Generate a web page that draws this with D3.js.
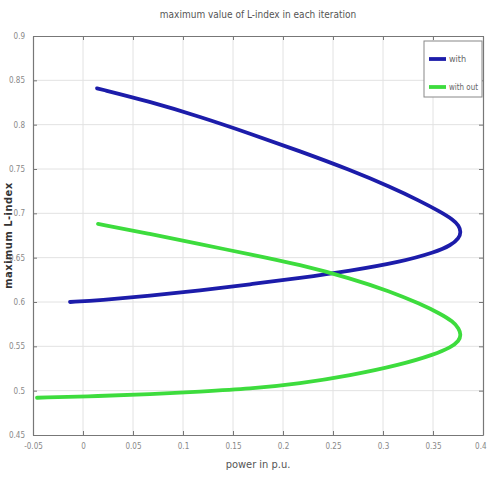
<!DOCTYPE html>
<html>
<head>
<meta charset="utf-8">
<script src="https://cdn.jsdelivr.net/npm/d3@7"></script>
<style>
  body { margin: 0; background: #fff; }
  svg { display: block; }
  text { font-family: "Liberation Sans Narrow", "DejaVu Sans Condensed", "Liberation Sans", sans-serif; }
</style>
</head>
<body>
<svg id="chart" width="487" height="482"></svg>
<script>
// Load-power values (p.u.) and the maximum L-index for each iteration
const withPower = [0.014, 0.067, 0.117, 0.167, 0.217, 0.267, 0.307, 0.337, 0.357, 0.370, 0.376, 0.378, 0.376, 0.368, 0.352, 0.317, 0.267, 0.217, 0.167, 0.117, 0.067, 0.017, -0.013];
const withLindex = [0.841, 0.826, 0.809, 0.790, 0.770, 0.749, 0.730, 0.714, 0.702, 0.693, 0.686, 0.679, 0.672, 0.664, 0.656, 0.645, 0.635, 0.627, 0.620, 0.613, 0.607, 0.602, 0.600];

const withoutPower = [0.015, 0.067, 0.117, 0.167, 0.217, 0.267, 0.307, 0.337, 0.357, 0.370, 0.376, 0.378, 0.376, 0.368, 0.352, 0.317, 0.267, 0.217, 0.167, 0.117, 0.067, 0.017, -0.046];
const withoutLindex = [0.688, 0.677, 0.665, 0.654, 0.642, 0.627, 0.612, 0.598, 0.587, 0.578, 0.570, 0.563, 0.556, 0.549, 0.541, 0.529, 0.517, 0.508, 0.502, 0.499, 0.496, 0.494, 0.492];

const xTicks = [-0.05, 0, 0.05, 0.1, 0.15, 0.2, 0.25, 0.3, 0.35, 0.4];
const xTickLabels = ["-0.05", "0", "0.05", "0.1", "0.15", "0.2", "0.25", "0.3", "0.35", "0.4"];
const yTicks = [0.45, 0.5, 0.55, 0.6, 0.65, 0.7, 0.75, 0.8, 0.85, 0.9];
const yTickLabels = ["0.45", "0.5", "0.55", "0.6", "0.65", "0.7", "0.75", "0.8", "0.85", "0.9"];

const seriesNames = ["with", "with out"];
const seriesColors = ["#1c1caa", "#3ddc3d"];

const svg = d3.select("#chart");
const margin = { top: 36, right: 4, bottom: 47, left: 33 };
const width = 487 - margin.left - margin.right;
const height = 482 - margin.top - margin.bottom;

const x = d3.scaleLinear().domain([-0.05, 0.4]).range([0, width]);
const y = d3.scaleLinear().domain([0.45, 0.9]).range([height, 0]);

const g = svg.append("g").attr("transform", `translate(${margin.left},${margin.top})`);

// grid
g.append("g").selectAll("line").data(xTicks.slice(1, -1)).join("line")
  .attr("x1", d => x(d)).attr("x2", d => x(d)).attr("y1", 0).attr("y2", height)
  .attr("stroke", "#e2e2e2").attr("stroke-width", 1);
g.append("g").selectAll("line").data(yTicks.slice(1, -1)).join("line")
  .attr("y1", d => y(d)).attr("y2", d => y(d)).attr("x1", 0).attr("x2", width)
  .attr("stroke", "#e2e2e2").attr("stroke-width", 1);

// axes with inward ticks on all four sides
const fmtX = (d, i) => xTickLabels[i];
const fmtY = (d, i) => yTickLabels[i];
const axB = g.append("g").attr("transform", `translate(0,${height})`)
  .call(d3.axisBottom(x).tickValues(xTicks).tickFormat(fmtX).tickSizeInner(-4).tickSizeOuter(0).tickPadding(8));
const axL = g.append("g")
  .call(d3.axisLeft(y).tickValues(yTicks).tickFormat(fmtY).tickSizeInner(-4).tickSizeOuter(0).tickPadding(8));
const axT = g.append("g")
  .call(d3.axisTop(x).tickValues(xTicks).tickFormat("").tickSizeInner(-4).tickSizeOuter(0));
const axR = g.append("g").attr("transform", `translate(${width},0)`)
  .call(d3.axisRight(y).tickValues(yTicks).tickFormat("").tickSizeInner(-4).tickSizeOuter(0));
[axB, axL, axT, axR].forEach(a => {
  a.select(".domain").attr("stroke", "#777").attr("stroke-width", 1.2);
  a.selectAll(".tick line").attr("stroke", "#777");
  a.selectAll("text").attr("fill", "#888").style("font-size", "8px");
});
// keep the last bottom label inside the frame
axB.selectAll(".tick text").filter((d, i) => i === xTicks.length - 1).attr("text-anchor", "end").attr("dx", "3");

// curves
const line = d3.line().x(d => x(d[0])).y(d => y(d[1])).curve(d3.curveBasis);
const series = [
  withPower.map((p, i) => [p, withLindex[i]]),
  withoutPower.map((p, i) => [p, withoutLindex[i]])
];
series.forEach((pts, i) => {
  g.append("path").datum(pts).attr("d", line)
    .attr("fill", "none").attr("stroke", seriesColors[i])
    .attr("stroke-width", 3.8).attr("stroke-linejoin", "round").attr("stroke-linecap", "round");
});

// legend
const lg = g.append("g").attr("transform", `translate(${width - 59},5)`);
lg.append("rect").attr("width", 58).attr("height", 56).attr("fill", "#fff").attr("stroke", "#888").attr("stroke-width", 1);
seriesNames.forEach((n, i) => {
  const yy = 18 + i * 28;
  lg.append("line").attr("x1", 5).attr("x2", 22).attr("y1", yy).attr("y2", yy)
    .attr("stroke", seriesColors[i]).attr("stroke-width", 3.8);
  lg.append("text").attr("x", 25).attr("y", yy + 3).text(n)
    .attr("fill", "#666").style("font-size", "9px")
    .attr("textLength", n.length > 4 ? 29 : null).attr("lengthAdjust", "spacingAndGlyphs");
});

// titles
svg.append("text").attr("x", margin.left + width / 2).attr("y", 18).attr("text-anchor", "middle")
  .attr("fill", "#555").style("font-size", "10px").text("maximum value of L-index in each iteration");
svg.append("text").attr("x", margin.left + width / 2).attr("y", 468).attr("text-anchor", "middle")
  .attr("fill", "#555").style("font-size", "11px").text("power in p.u.");
svg.append("text").attr("transform", `translate(12,${margin.top + height / 2}) rotate(-90)`)
  .attr("text-anchor", "middle").attr("fill", "#333").style("font-size", "11px").style("font-weight", "bold")
  .style("letter-spacing", "0.5px").text("maximum L-index");
</script>
</body>
</html>
